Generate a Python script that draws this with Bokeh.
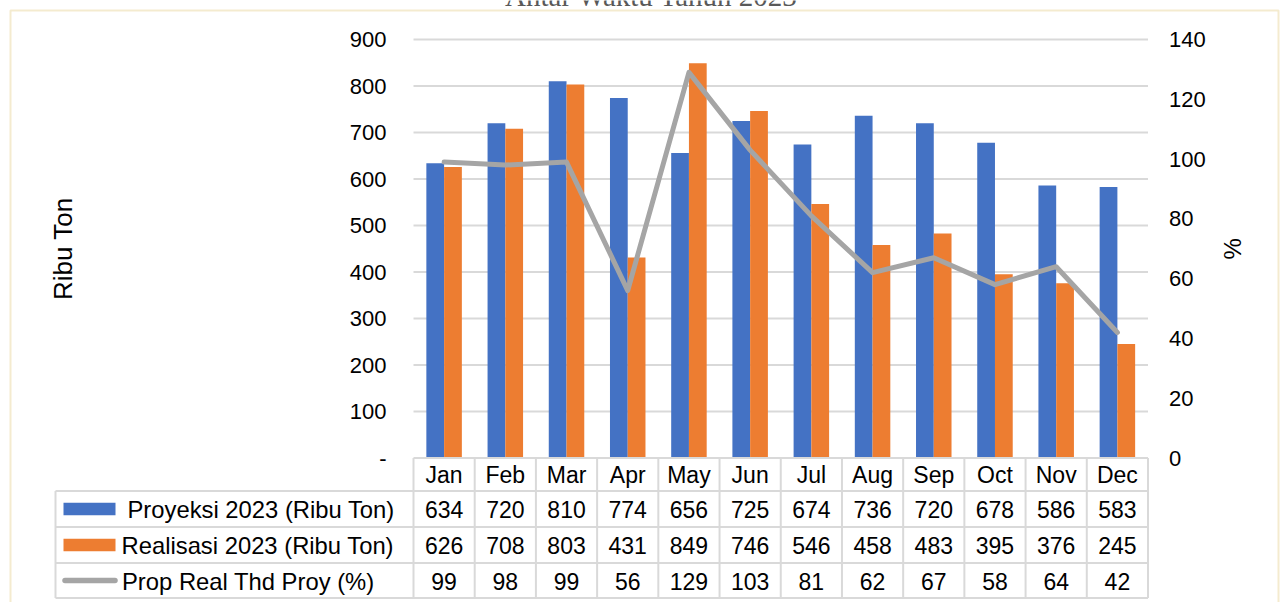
import math
from bokeh.plotting import figure
from bokeh.models import Range1d, ColumnDataSource, BoxAnnotation
from bokeh.core.properties import value
from bokeh.embed import file_html
from bokeh.resources import INLINE

# ---------------- data ----------------
months = ["Jan", "Feb", "Mar", "Apr", "May", "Jun", "Jul", "Aug", "Sep", "Oct", "Nov", "Dec"]
proyeksi = [634, 720, 810, 774, 656, 725, 674, 736, 720, 678, 586, 583]
realisasi = [626, 708, 803, 431, 849, 746, 546, 458, 483, 395, 376, 245]
prop_pct = [99, 98, 99, 56, 129, 103, 81, 62, 67, 58, 64, 42]
series_names = ["Proyeksi 2023 (Ribu Ton)", "Realisasi 2023 (Ribu Ton)", "Prop Real Thd Proy (%)"]
left_ticks = [0, 100, 200, 300, 400, 500, 600, 700, 800, 900]
left_tick_labels = ["-", "100", "200", "300", "400", "500", "600", "700", "800", "900"]
right_ticks = [0, 20, 40, 60, 80, 100, 120, 140]
title_text = "Antar Waktu Tahun 2023"
left_axis_title = "Ribu Ton"
right_axis_title = "%"

# ---------------- layout (canvas pixels) ----------------
W, H = 1281, 602
PL, PR = 413.0, 1147.5            # category area left / right
Y0, YTOP = 457.5, 39.0            # canvas y of value 0 and of value 900
LMAX, RMAX = 900, 140
NCAT = len(months)
PXC = (PR - PL) / NCAT
PXU = (Y0 - YTOP) / LMAX

def dx(px):
    return (px - PL) / PXC

def dy(py):
    return (Y0 - py) / PXU

FONT = "Liberation Sans"
GRID = "#D9D9D9"
BLUE, ORANGE, GRAY = "#4472C4", "#ED7D31", "#A5A5A5"
TXT = "#000000"

p = figure(width=W, height=H, x_range=Range1d(dx(0), dx(W)), y_range=Range1d(dy(H), dy(0)),
           output_backend="svg", toolbar_location=None,
           x_axis_location=None, y_axis_location=None, min_border=0,
           outline_line_color=None, background_fill_color="white", border_fill_color="white")
p.extra_y_ranges = {"pct": Range1d(dy(H) * RMAX / LMAX, dy(0) * RMAX / LMAX)}
p.xgrid.visible = False
p.ygrid.visible = False

xpos = [i + 0.5 for i in range(NCAT)]
src = ColumnDataSource(dict(
    x=xpos, months=months, proyeksi=proyeksi, realisasi=realisasi, prop=prop_pct,
    proyeksi_s=[str(v) for v in proyeksi], realisasi_s=[str(v) for v in realisasi],
    prop_s=[str(v) for v in prop_pct],
    xb=[v - 0.145 for v in xpos], xo=[v + 0.145 for v in xpos]))

# horizontal gridlines (value axis)
p.segment(x0=[0] * (len(left_ticks) - 1), x1=[NCAT] * (len(left_ticks) - 1),
          y0=left_ticks[1:], y1=left_ticks[1:], line_color=GRID, line_width=2)

# bars and line
BW = 0.29
p.vbar(x="xb", top="proyeksi", bottom=0, width=BW, source=src, fill_color=BLUE, line_color=None)
p.vbar(x="xo", top="realisasi", bottom=0, width=BW, source=src, fill_color=ORANGE, line_color=None)
p.line(x="x", y="prop", source=src, y_range_name="pct", line_color=GRAY, line_width=5,
       line_join="round", line_cap="round")

# axis tick labels
tick_kw = dict(text_font=value(FONT), text_font_size="22px", text_color=TXT,
               text_baseline="middle")
p.text(x=[dx(386)] * len(left_ticks), y=left_ticks, text=left_tick_labels,
       text_align="right", **tick_kw)
p.text(x=[dx(1168.5)] * len(right_ticks), y=right_ticks, text=[str(t) for t in right_ticks],
       text_align="left", y_range_name="pct", **tick_kw)
p.text(x=[dx(62)], y=[LMAX / 2], text=[left_axis_title], angle=math.pi / 2,
       text_align="center", text_baseline="middle", text_font=value(FONT),
       text_font_size="26px", text_color=TXT)
p.text(x=[dx(1232)], y=[RMAX / 2], text=[right_axis_title], angle=math.pi / 2,
       text_align="center", text_baseline="middle", text_font=value(FONT),
       text_font_size="24px", text_color=TXT, y_range_name="pct")

# ---------------- data table ----------------
ROWS = [457.5, 490.5, 526.5, 562.5, 597.5]   # canvas y of table horizontal lines
LX0 = 55.0                                     # legend column left edge
p.segment(x0=[0], x1=[NCAT], y0=[dy(ROWS[0])], y1=[dy(ROWS[0])], line_color=GRID, line_width=2)
p.segment(x0=[dx(LX0)] * 4, x1=[NCAT] * 4, y0=[dy(r) for r in ROWS[1:]],
          y1=[dy(r) for r in ROWS[1:]], line_color=GRID, line_width=2)
p.segment(x0=list(range(NCAT + 1)), x1=list(range(NCAT + 1)), y0=[dy(ROWS[0])] * (NCAT + 1),
          y1=[dy(ROWS[-1])] * (NCAT + 1), line_color=GRID, line_width=2)
p.segment(x0=[dx(LX0)], x1=[dx(LX0)], y0=[dy(ROWS[1])], y1=[dy(ROWS[-1])],
          line_color=GRID, line_width=2)

centers = [(ROWS[i] + ROWS[i + 1]) / 2 for i in range(4)]
for col, yc in zip(["months", "proyeksi_s", "realisasi_s", "prop_s"], centers):
    p.text(x="x", y=dy(yc + 0.5), text=col, source=src, text_align="center",
           text_baseline="middle", text_font=value(FONT), text_font_size="23px",
           text_color=TXT)

# legend keys
p.quad(left=[dx(63)] * 2, right=[dx(115)] * 2,
       top=[dy(centers[1] - 6.3), dy(centers[2] - 6.3)],
       bottom=[dy(centers[1] + 6.3), dy(centers[2] + 6.3)],
       fill_color=[BLUE, ORANGE], line_color=None)
p.line(x=[dx(64.5), dx(114.5)], y=[dy(centers[3]), dy(centers[3])], line_color=GRAY,
       line_width=5.5, line_cap="round")
p.text(x=[dx(127), dx(121), dx(121.5)], y=[dy(c + 0.5) for c in centers[1:]], text=series_names,
       text_align="left", text_baseline="middle", text_font=value(FONT),
       text_font_size="23.8px", text_color=TXT)

# outer border and (cut-off) title
p.add_layout(BoxAnnotation(left=dx(10), right=dx(1278), top=dy(10), bottom=dy(700),
                           fill_alpha=0, line_color="#DCBC60", line_width=2))
p.text(x=[dx(651)], y=[dy(-5)], text=[title_text], text_align="center",
       text_baseline="alphabetic", text_font=value("Liberation Serif"),
       text_font_size="29px", text_color="#595959")

open("out.html", "w").write(file_html(p, INLINE))
